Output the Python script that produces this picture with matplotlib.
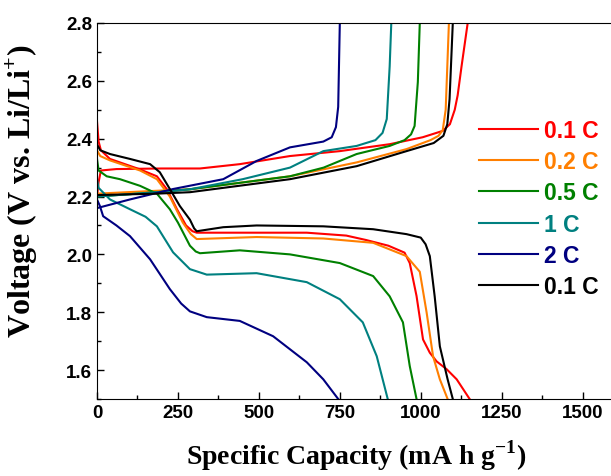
import numpy as np
import matplotlib
matplotlib.use("Agg")
import matplotlib.pyplot as plt
from matplotlib.ticker import MultipleLocator

plt.rcParams['mathtext.fontset'] = 'custom'
plt.rcParams['mathtext.rm'] = 'Liberation Serif:bold'
plt.rcParams['mathtext.bf'] = 'Liberation Serif:bold'

labels = ['0.1 C', '0.2 C', '0.5 C', '1 C', '2 C', '0.1 C']
colors = ['#ff0000', '#ff7f00', '#008000', '#008080', '#000080', '#000000']

# discharge curves (capacity, voltage)
dis_x = [
    [0, 5, 12, 40, 130, 185, 216, 247, 275, 295, 308, 493, 648, 770, 830, 900, 950, 966, 987, 1007, 1028, 1049, 1080, 1111, 1151],
    [0, 10, 40, 133, 185, 225, 265, 290, 308, 493, 699, 853, 956, 997, 1018, 1038, 1059, 1083],
    [0, 5, 30, 71, 133, 185, 225, 250, 287, 305, 318, 441, 596, 750, 853, 904, 945, 966, 987],
    [0, 5, 40, 102, 150, 185, 235, 287, 339, 493, 648, 750, 821, 864, 898],
    [0, 9, 19, 60, 102, 164, 225, 260, 287, 339, 441, 544, 648, 699, 745],
    [0, 10, 40, 102, 164, 194, 225, 256, 287, 300, 308, 390, 493, 699, 853, 956, 1000, 1015, 1028, 1043, 1059, 1083, 1099],
]
dis_y = [
    [2.46, 2.39, 2.36, 2.33, 2.295, 2.27, 2.225, 2.156, 2.1, 2.08, 2.075, 2.075, 2.075, 2.065, 2.05, 2.03, 2.006, 1.97, 1.856, 1.706, 1.66, 1.63, 1.603, 1.568, 1.5],
    [2.36, 2.34, 2.325, 2.29, 2.26, 2.2, 2.11, 2.07, 2.053, 2.06, 2.055, 2.04, 1.994, 1.94, 1.80, 1.648, 1.568, 1.5],
    [2.33, 2.29, 2.27, 2.26, 2.237, 2.21, 2.156, 2.11, 2.03, 2.01, 2.004, 2.014, 2.0, 1.97, 1.925, 1.855, 1.765, 1.614, 1.5],
    [2.26, 2.23, 2.19, 2.156, 2.13, 2.097, 2.007, 1.949, 1.93, 1.935, 1.904, 1.845, 1.765, 1.648, 1.5],
    [2.19, 2.167, 2.132, 2.1, 2.063, 1.983, 1.88, 1.83, 1.803, 1.783, 1.77, 1.717, 1.627, 1.568, 1.5],
    [2.38, 2.36, 2.347, 2.33, 2.312, 2.284, 2.226, 2.167, 2.12, 2.09, 2.08, 2.094, 2.1, 2.097, 2.087, 2.07, 2.058, 2.035, 1.994, 1.855, 1.682, 1.568, 1.5],
]

# charge curves (capacity, voltage)
chg_x = [
    [0, 5, 12, 60, 200, 318, 441, 596, 750, 904, 1006, 1068, 1090, 1105, 1114, 1126, 1145],
    [0, 185, 287, 596, 802, 956, 1030, 1055, 1068, 1077, 1084, 1087],
    [0, 185, 287, 596, 700, 802, 904, 950, 970, 981, 991, 997],
    [0, 185, 287, 450, 596, 699, 802, 860, 882, 895, 904, 909],
    [0, 102, 235, 390, 493, 596, 699, 725, 738, 745, 750],
    [0, 185, 287, 596, 802, 956, 1040, 1070, 1082, 1089, 1099],
]
chg_y = [
    [2.2, 2.25, 2.29, 2.295, 2.297, 2.297, 2.312, 2.34, 2.357, 2.381, 2.405, 2.427, 2.45, 2.5, 2.55, 2.65, 2.8],
    [2.21, 2.22, 2.225, 2.27, 2.318, 2.364, 2.395, 2.41, 2.43, 2.5, 2.71, 2.8],
    [2.2, 2.215, 2.225, 2.27, 2.30, 2.347, 2.375, 2.395, 2.415, 2.444, 2.596, 2.8],
    [2.2, 2.215, 2.225, 2.26, 2.3, 2.357, 2.375, 2.395, 2.42, 2.468, 2.65, 2.8],
    [2.16, 2.19, 2.226, 2.26, 2.323, 2.37, 2.39, 2.405, 2.44, 2.51, 2.8],
    [2.205, 2.21, 2.215, 2.26, 2.305, 2.357, 2.385, 2.41, 2.45, 2.537, 2.8],
]

fig = plt.figure(figsize=(6.11, 4.77), dpi=100)
ax = fig.add_axes([97 / 611, 77 / 477, 518 / 611, 376 / 477])

for i in range(len(labels)):
    ax.plot(dis_x[i], dis_y[i], color=colors[i], lw=1.5, label=labels[i])
    ax.plot(chg_x[i], chg_y[i], color=colors[i], lw=1.5)

ax.set_xlim(0, 1600)
ax.set_ylim(1.5, 2.8)
ax.xaxis.set_major_locator(MultipleLocator(250))
ax.xaxis.set_minor_locator(MultipleLocator(125))
ax.yaxis.set_major_locator(MultipleLocator(0.2))
ax.yaxis.set_minor_locator(MultipleLocator(0.1))
ax.tick_params(which='both', direction='in', top=False, right=False)
ax.tick_params(which='major', length=5, width=1)
ax.tick_params(which='minor', length=3, width=1)
for lab in ax.get_xticklabels() + ax.get_yticklabels():
    lab.set_fontfamily('Liberation Sans')
    lab.set_fontweight('bold')
    lab.set_fontsize(13.5)
ax.yaxis.set_major_formatter(matplotlib.ticker.FormatStrFormatter('%.1f'))

ax.set_xlabel(r'Specific Capacity (mA h g$^{\mathbf{-1}}$)', fontfamily='Liberation Serif',
              fontweight='bold', fontsize=20, labelpad=12)
ax.set_ylabel(r'Voltage (V vs. Li/Li$^{\mathbf{+}}$)', fontfamily='Liberation Serif',
              fontweight='bold', fontsize=23)
ax.yaxis.set_label_coords(-0.11, 0.555)

leg = ax.legend(loc='upper left', bbox_to_anchor=(0.697, 0.80), frameon=False,
                handlelength=2.6, handletextpad=0.26, labelspacing=0.36,
                labelcolor='linecolor', prop={'family': 'Liberation Sans', 'weight': 'bold', 'size': 16.5})

fig.savefig('out.png', dpi=100)
